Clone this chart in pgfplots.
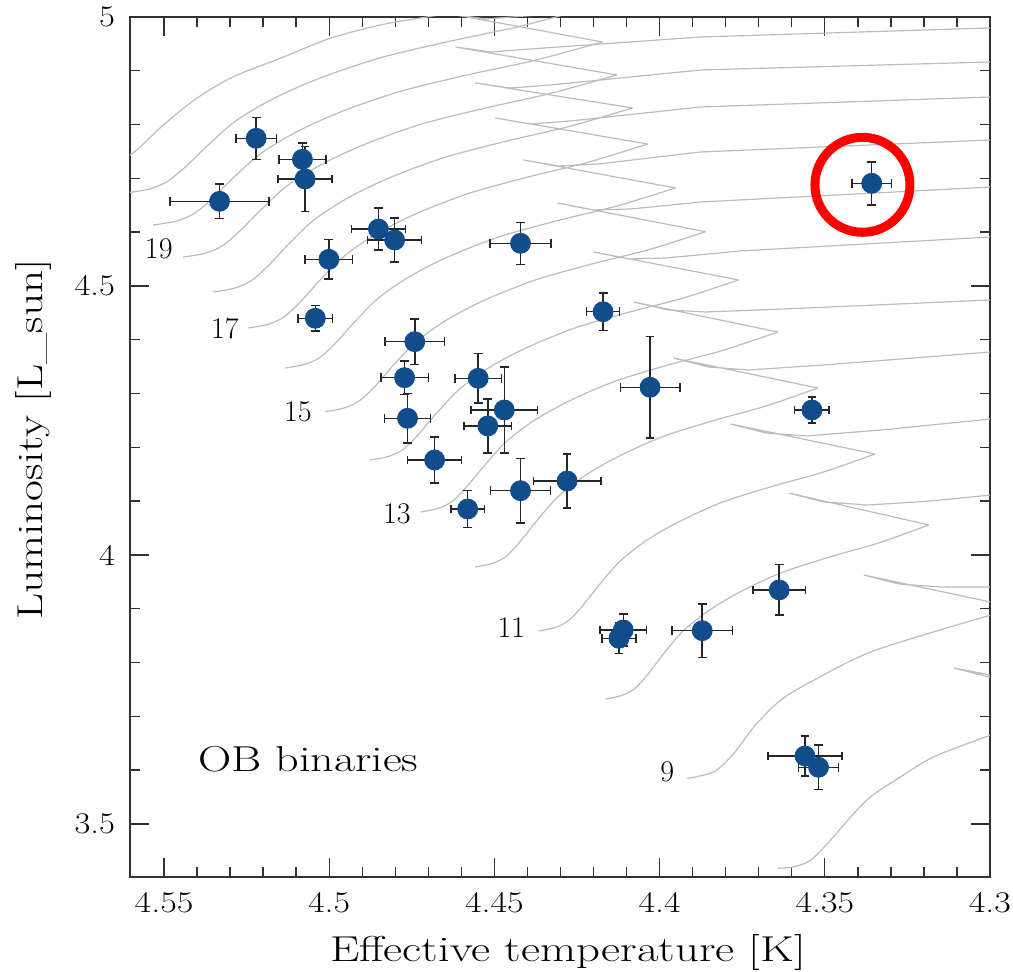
\documentclass[border=0pt]{standalone}
\usepackage{fontspec}
\usepackage{pgfplots}
\pgfplotsset{compat=1.18}
\definecolor{trkgray}{RGB}{188,188,188}
\definecolor{ptblue}{RGB}{17,76,140}
\definecolor{axc}{RGB}{50,50,50}
\pgfplotsset{track/.style={trkgray, line width=0.6pt, no marks}}
\begin{document}
\begin{tikzpicture}
\begin{axis}[
  scale only axis, width=430pt, height=430pt,
  x dir=reverse, xmin=4.30, xmax=4.5603, ymin=3.4015, ymax=5.0,
  xtick={4.30,4.35,4.40,4.45,4.50,4.55}, ytick={3.5,4,4.5,5},
  minor x tick num=4, minor y tick num=4,
  tick align=inside,
  major tick length=9.5pt, minor tick length=5pt,
  axis line style={axc, line width=0.7pt},
  tick style={axc, line width=0.7pt},
  /pgf/number format/assume math mode=true,
  ticklabel style={font=\fontsize{15}{15}\selectfont},
  xticklabel={\scalebox{1.2}[1]{\pgfmathprintnumber{\tick}}},
  yticklabel={\scalebox{1.15}[1]{\pgfmathprintnumber{\tick}}},
  x tick label style={yshift=-4pt},
  y tick label style={xshift=-4pt},
  xlabel={\scalebox{1.3}[1]{Effective temperature [K]}},
  ylabel={\scalebox{1.26}[1]{Luminosity [L\_sun]}},
  label style={font=\fontsize{18}{18}\selectfont},
  xlabel style={at={(axis description cs:0.5093,-0.0988)}, anchor=base},
  ylabel style={at={(axis description cs:-0.1023,0.5087)}, anchor=base},
]
% ---- evolutionary tracks ----
% 8
\addplot[track, smooth] coordinates {(4.3642,3.4177) (4.3593,3.4206) (4.3542,3.4331) (4.3482,3.4703) (4.3421,3.5136) (4.3361,3.5507) (4.3270,3.5879) (4.3169,3.6251) (4.2997,3.6654) (4.2845,3.6970) (4.2655,3.7361)};
\addplot[track] coordinates {(4.2655,3.7361) (4.3109,3.7900) (4.3003,3.7732) (4.2876,3.7714)};
% 9
\addplot[track, smooth] coordinates {(4.3916,3.5849) (4.3835,3.5972) (4.3775,3.6314) (4.3714,3.6809) (4.3633,3.7305) (4.3532,3.7677) (4.3371,3.8173) (4.3169,3.8574) (4.2997,3.8885) (4.2927,3.9033)};
\addplot[track] coordinates {(4.2927,3.9033) (4.3382,3.9628) (4.3276,3.9461) (4.3148,3.9405) (4.2997,3.9405) (4.2876,3.9424)};
% 10
\addplot[track, smooth] coordinates {(4.4164,3.7323) (4.4115,3.7388) (4.4075,3.7517) (4.4036,3.7777) (4.3988,3.8164) (4.3929,3.8586) (4.3850,3.8972) (4.3752,3.9329) (4.3625,3.9684) (4.3478,3.9976) (4.3332,4.0234) (4.3185,4.0558)};
\addplot[track] coordinates {(4.3185,4.0558) (4.3609,4.1152) (4.3503,4.0985) (4.3367,4.0929) (4.3179,4.1004) (4.2997,4.1115)};
% 11
\addplot[track, smooth] coordinates {(4.4367,3.8587) (4.4316,3.8652) (4.4275,3.8784) (4.4234,3.9048) (4.4183,3.9442) (4.4122,3.9870) (4.4041,4.0266) (4.3939,4.0626) (4.3807,4.0989) (4.3654,4.1284) (4.3501,4.1548) (4.3348,4.1877)};
\addplot[track] coordinates {(4.3348,4.1877) (4.3785,4.2435) (4.3679,4.2268) (4.3558,4.2212) (4.3330,4.2323) (4.2997,4.2528)};
% 12
\addplot[track, smooth] coordinates {(4.4558,3.9777) (4.4506,3.9844) (4.4464,3.9976) (4.4423,4.0243) (4.4371,4.0641) (4.4309,4.1074) (4.4226,4.1474) (4.4122,4.1840) (4.3988,4.2206) (4.3832,4.2506) (4.3677,4.2771) (4.3521,4.3104)};
\addplot[track] coordinates {(4.3521,4.3104) (4.3958,4.3662) (4.3852,4.3494) (4.3730,4.3439) (4.3503,4.3532) (4.2997,4.3773)};
% 13
\addplot[track, smooth] coordinates {(4.4724,4.0799) (4.4670,4.0866) (4.4627,4.1000) (4.4584,4.1268) (4.4529,4.1669) (4.4465,4.2104) (4.4378,4.2506) (4.4270,4.2874) (4.4129,4.3242) (4.3967,4.3543) (4.3805,4.3810) (4.3642,4.4145)};
\addplot[track] coordinates {(4.3642,4.4145) (4.4079,4.4703) (4.3973,4.4554) (4.3861,4.4517) (4.3624,4.4572) (4.2997,4.4740)};
% 14
\addplot[track, smooth] coordinates {(4.4876,4.1766) (4.4820,4.1833) (4.4775,4.1967) (4.4731,4.2234) (4.4675,4.2636) (4.4608,4.3071) (4.4519,4.3472) (4.4407,4.3840) (4.4262,4.4208) (4.4095,4.4509) (4.3928,4.4777) (4.3761,4.5112)};
\addplot[track] coordinates {(4.3761,4.5112) (4.4200,4.5632) (4.4094,4.5502) (4.3982,4.5520) (4.3755,4.5651) (4.2997,4.5911)};
% 15
\addplot[track, smooth] coordinates {(4.5012,4.2664) (4.4955,4.2731) (4.4909,4.2864) (4.4862,4.3132) (4.4805,4.3533) (4.4736,4.3968) (4.4644,4.4370) (4.4529,4.4738) (4.4379,4.5106) (4.4206,4.5407) (4.4033,4.5675) (4.3861,4.6009)};
\addplot[track] coordinates {(4.3861,4.6009) (4.4309,4.6543) (4.4203,4.6413) (4.4088,4.6431) (4.3876,4.6561) (4.2997,4.6840)};
% 16
\addplot[track, smooth] coordinates {(4.5133,4.3476) (4.5074,4.3543) (4.5027,4.3677) (4.4980,4.3944) (4.4921,4.4346) (4.4850,4.4781) (4.4755,4.5182) (4.4637,4.5550) (4.4483,4.5918) (4.4306,4.6219) (4.4129,4.6487) (4.3952,4.6822)};
\addplot[track] coordinates {(4.3952,4.6822) (4.4412,4.7342) (4.4306,4.7230) (4.4185,4.7268) (4.3876,4.7491) (4.2997,4.7714)};
% 17
\addplot[track, smooth] coordinates {(4.5245,4.4219) (4.5185,4.4288) (4.5137,4.4424) (4.5088,4.4699) (4.5028,4.5108) (4.4955,4.5554) (4.4859,4.5963) (4.4738,4.6340) (4.4580,4.6716) (4.4399,4.7024) (4.4218,4.7297) (4.4036,4.7639)};
\addplot[track] coordinates {(4.4036,4.7639) (4.4497,4.8123) (4.4391,4.8011) (4.4270,4.8067) (4.3876,4.8327) (4.2997,4.8513)};
% 18
\addplot[track, smooth] coordinates {(4.5352,4.4888) (4.5288,4.4957) (4.5237,4.5093) (4.5186,4.5368) (4.5123,4.5777) (4.5047,4.6223) (4.4945,4.6632) (4.4818,4.7009) (4.4653,4.7385) (4.4463,4.7693) (4.4272,4.7967) (4.4082,4.8309)};
\addplot[track] coordinates {(4.4082,4.8309) (4.4558,4.8773) (4.4452,4.8680) (4.4330,4.8736) (4.3876,4.9015) (4.2997,4.9164)};
% 19
\addplot[track, smooth] coordinates {(4.5442,4.5539) (4.5377,4.5606) (4.5324,4.5742) (4.5272,4.6013) (4.5206,4.6418) (4.5128,4.6859) (4.5022,4.7264) (4.4891,4.7636) (4.4721,4.8009) (4.4524,4.8312) (4.4327,4.8584) (4.4130,4.8922)};
\addplot[track] coordinates {(4.4130,4.8922) (4.4618,4.9442) (4.4512,4.9349) (4.4391,4.9405) (4.3876,4.9628) (4.2997,4.9796)};
% 20
\addplot[track, smooth] coordinates {(4.5533,4.6134) (4.5465,4.6203) (4.5411,4.6338) (4.5356,4.6610) (4.5289,4.7019) (4.5207,4.7461) (4.5098,4.7868) (4.4962,4.8244) (4.4785,4.8617) (4.4581,4.8924) (4.4377,4.9195) (4.4173,4.9535)};
\addplot[track] coordinates {(4.4173,4.9535) (4.4633,5.0056) (4.4527,4.9963) (4.4406,5.0019) (4.3876,5.0242) (4.2997,5.0409)};
% 21
\addplot[track, smooth] coordinates {(4.5618,4.6729) (4.5548,4.6797) (4.5492,4.6935) (4.5436,4.7210) (4.5366,4.7623) (4.5282,4.8071) (4.5169,4.8483) (4.5029,4.8861) (4.4846,4.9240) (4.4636,4.9548) (4.4425,4.9823) (4.4215,5.0167)};
% 22
\addplot[track, smooth] coordinates {(4.5694,4.7305) (4.5603,4.7435) (4.5502,4.7993) (4.5401,4.8489) (4.5290,4.8890) (4.5148,4.9232) (4.4997,4.9604) (4.4845,4.9851) (4.4724,4.9981) (4.4573,5.0130)};
% ---- OB binaries ----
\addplot[only marks, mark=*, mark size=5pt, color=ptblue,
  error bars/.cd, x dir=both, x explicit, y dir=both, y explicit,
  error bar style={black!85, line width=0.75pt},
  error mark options={rotate=90, black!85, line width=0.75pt, mark size=2.2pt}]
  table[x=x, y=y, x error=ex, y error=ey] {
x y ex ey
4.5221 4.7745 0.0061 0.039
4.5081 4.7355 0.0071 0.030
4.5073 4.6989 0.0082 0.060
4.5332 4.6574 0.0150 0.032
4.4851 4.6059 0.0082 0.039
4.4802 4.5855 0.0082 0.041
4.5001 4.5496 0.0072 0.037
4.5042 4.4400 0.0052 0.024
4.4741 4.3965 0.0090 0.042
4.4772 4.3296 0.0072 0.031
4.4549 4.3284 0.0070 0.046
4.4763 4.2541 0.0070 0.046
4.4520 4.2398 0.0072 0.050
4.4470 4.2695 0.0101 0.080
4.4681 4.1766 0.0082 0.043
4.4280 4.1375 0.0102 0.050
4.4421 4.1195 0.0091 0.060
4.4581 4.0855 0.0051 0.034
4.4421 4.5793 0.0093 0.039
4.4171 4.4522 0.0050 0.035
4.4029 4.3117 0.0090 0.094
4.3539 4.2695 0.0052 0.024
4.3358 4.6909 0.0060 0.040
4.3638 3.9350 0.0080 0.047
4.3871 3.8593 0.0092 0.050
4.4110 3.8606 0.0070 0.030
4.4123 3.8452 0.0051 0.028
4.3560 3.6264 0.0112 0.037
4.3519 3.6054 0.0060 0.041
};
% highlight circle
\addplot[only marks, mark=o, mark size=23.75pt, red, line width=4.5pt, mark options={line width=4.5pt}] coordinates {(4.3386,4.6881)};
% mass labels
\node[anchor=east, inner sep=0pt, font=\fontsize{15}{15}\selectfont] at (axis cs:4.5473,4.5688) {19};
\node[anchor=east, inner sep=0pt, font=\fontsize{15}{15}\selectfont] at (axis cs:4.5273,4.4201) {17};
\node[anchor=east, inner sep=0pt, font=\fontsize{15}{15}\selectfont] at (axis cs:4.5052,4.2658) {15};
\node[anchor=east, inner sep=0pt, font=\fontsize{15}{15}\selectfont] at (axis cs:4.4752,4.0762) {13};
\node[anchor=east, inner sep=0pt, font=\fontsize{15}{15}\selectfont] at (axis cs:4.4406,3.8643) {11};
\node[anchor=east, inner sep=0pt, font=\fontsize{15}{15}\selectfont] at (axis cs:4.3955,3.5967) {9};
\node[anchor=base west, inner sep=0pt, font=\fontsize{18}{18}\selectfont] at (axis cs:4.5397,3.5967) {\scalebox{1.28}[1]{OB binaries}};
\end{axis}
\pgfresetboundingbox
\path[use as bounding box] ([shift={(-65pt,-47.5pt)}]current axis.south west) rectangle ([shift={(11.5pt,8.5pt)}]current axis.north east);
\end{tikzpicture}
\end{document}
